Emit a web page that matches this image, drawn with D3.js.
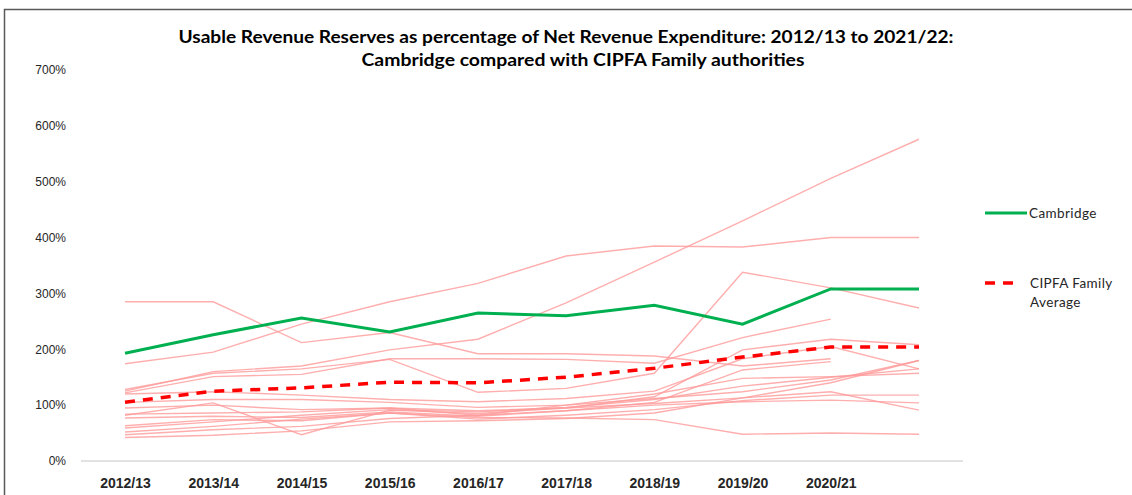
<!DOCTYPE html>
<html>
<head>
<meta charset="utf-8">
<script src="https://cdn.jsdelivr.net/npm/d3@7"></script>
<style>
  body { margin: 0; background: #fff; }
  svg { display: block; font-family: Lato, "Open Sans", sans-serif; }
</style>
</head>
<body>
<svg id="chart"></svg>
<script>
// years on the x axis (last one has no label in the original)
const years = ["2012/13","2013/14","2014/15","2015/16","2016/17","2017/18","2018/19","2019/20","2020/21","2021/22"];
const yearLabels = years.slice(0, 9);
const yTicks = [0, 100, 200, 300, 400, 500, 600, 700];

// % values
const cambridge = [193, 226, 256, 231, 265, 260, 279, 245, 308, 308];
const familyAverage = [105, 125, 131, 141, 140, 150, 166, 186, 204, 204];

// the individual CIPFA family authorities (faint lines)
const family = [
  [285, 285, 212, 230, 192, 192, 188, 170, 183, null],
  [174, 195, 245, 285, 318, 367, 385, 383, 400, 400],
  [125, 160, 170, 199, 218, 283, 356, 430, 506, 576],
  [128, 157, 165, 182, 123, 130, 157, 338, 310, 274],
  [122, 151, 155, 183, 183, 182, 175, 221, 254, null],
  [82, 104, 47, 91, 85, 95, 115, 199, 218, 208],
  [105, 110, 110, 105, 96, 100, 112, 124, 145, 180],
  [95, 100, 92, 95, 82, 100, 120, 148, 151, 157],
  [84, 86, 88, 95, 90, 95, 103, 113, 124, 91],
  [77, 80, 78, 88, 80, 90, 100, 106, 109, 104],
  [63, 74, 72, 86, 75, 82, 92, 108, 118, 118],
  [59, 70, 82, 92, 88, 96, 110, 134, 150, 165],
  [52, 62, 75, 86, 78, 77, 74, 48, 50, 48],
  [47, 56, 62, 76, 82, 90, 105, 163, 178, null],
  [42, 46, 54, 70, 72, 76, 86, 113, 140, 180],
  [120, 124, 118, 110, 106, 112, 125, 183, 205, 165]
];

const W = 1132, H = 495;
const svg = d3.select("#chart").attr("width", W).attr("height", H);

// outer frame of the chart object
svg.append("rect")
    .attr("x", 4.5).attr("y", 9.5)
    .attr("width", W + 10).attr("height", H + 10)
    .attr("fill", "#fff")
    .attr("stroke", "#595959")
    .attr("stroke-width", 1.5);

const x = d3.scalePoint()
    .domain(years)
    .range([125, 919]);

const y = d3.scaleLinear()
    .domain([0, 700])
    .range([461, 70]);

// x axis baseline
svg.append("line")
    .attr("x1", 81).attr("x2", 963)
    .attr("y1", y(0)).attr("y2", y(0))
    .attr("stroke", "#d9d9d9")
    .attr("stroke-width", 1.5);

const xAxis = svg.append("g")
    .attr("transform", `translate(0,${y(0)})`)
    .call(d3.axisBottom(x).tickValues(yearLabels).tickSize(0).tickPadding(17));
xAxis.select(".domain").remove();
xAxis.selectAll("text")
    .style("font-size", "14px")
    .style("font-weight", "bold")
    .attr("fill", "#262626");

const yAxis = svg.append("g")
    .attr("transform", "translate(67,0)")
    .call(d3.axisLeft(y).tickValues(yTicks).tickSize(0).tickPadding(1).tickFormat(d => d + "%"));
yAxis.select(".domain").remove();
yAxis.selectAll("text")
    .style("font-size", "12px")
    .attr("fill", "#262626");

const line = d3.line()
    .defined(d => d != null)
    .x((d, i) => x(years[i]))
    .y(d => y(d));

svg.append("g").selectAll("path")
    .data(family)
    .enter().append("path")
    .attr("d", line)
    .attr("fill", "none")
    .attr("stroke", "#ff9a9a")
    .attr("stroke-opacity", 0.8)
    .attr("stroke-width", 1.4);

svg.append("path")
    .attr("d", line(familyAverage))
    .attr("fill", "none")
    .attr("stroke", "#ff0000")
    .attr("stroke-width", 3.5)
    .attr("stroke-dasharray", "10,8");

svg.append("path")
    .attr("d", line(cambridge))
    .attr("fill", "none")
    .attr("stroke", "#00b050")
    .attr("stroke-width", 3);

// title
const title = svg.append("text")
    .attr("text-anchor", "middle")
    .style("font-size", "16.5px")
    .style("font-weight", "bold")
    .attr("fill", "#000");
title.append("tspan").attr("x", 566).attr("y", 43)
    .attr("textLength", 775).attr("lengthAdjust", "spacingAndGlyphs")
    .text("Usable Revenue Reserves as percentage of Net Revenue Expenditure: 2012/13 to 2021/22:");
title.append("tspan").attr("x", 583).attr("y", 66)
    .attr("textLength", 443).attr("lengthAdjust", "spacingAndGlyphs")
    .text("Cambridge compared with CIPFA Family authorities");

// legend
const legend = svg.append("g")
    .style("font-size", "13.5px")
    .style("letter-spacing", "0.4px");
legend.append("line")
    .attr("x1", 985).attr("x2", 1027).attr("y1", 213).attr("y2", 213)
    .attr("stroke", "#00b050").attr("stroke-width", 3);
legend.append("text")
    .attr("x", 1029).attr("y", 218)
    .attr("fill", "#262626")
    .text("Cambridge");
legend.append("line")
    .attr("x1", 985).attr("x2", 1020).attr("y1", 283).attr("y2", 283)
    .attr("stroke", "#ff0000").attr("stroke-width", 3.5)
    .attr("stroke-dasharray", "10,8");
const legText = legend.append("text")
    .attr("fill", "#262626");
legText.append("tspan").attr("x", 1030).attr("y", 288).text("CIPFA Family");
legText.append("tspan").attr("x", 1030).attr("y", 307).text("Average");
</script>
</body>
</html>
